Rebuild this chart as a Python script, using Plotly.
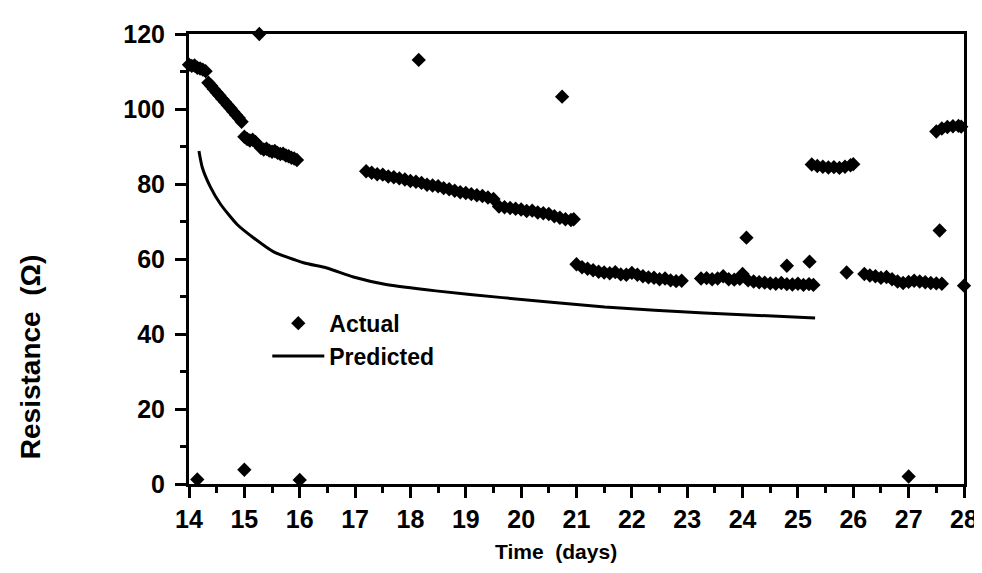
import plotly.graph_objects as go

# ---- Actual (measured) resistance, in days / ohms ----
seg_a_x = [14.0, 14.05, 14.1, 14.15, 14.2, 14.25, 14.3]
seg_a_y = [111.8, 111.5, 111.6, 111.0, 110.8, 110.5, 110.1]

seg_b_x = [14.35, 14.4, 14.45, 14.5, 14.55, 14.6, 14.65, 14.7, 14.75, 14.8, 14.85, 14.9, 14.95]
seg_b_y = [107.0, 106.2, 105.3, 104.4, 103.6, 102.7, 101.9, 101.0, 100.2, 99.3, 98.4, 97.6, 96.6]

seg_c_x = [15.0, 15.05, 15.1, 15.15, 15.2]
seg_c_y = [92.6, 92.0, 91.6, 91.8, 91.2]

seg_d_x = [15.3, 15.35, 15.4, 15.45, 15.5, 15.55, 15.6, 15.65, 15.7, 15.75, 15.8, 15.85, 15.9, 15.95]
seg_d_y = [89.6, 89.2, 89.4, 88.9, 88.6, 88.8, 88.3, 88.0, 88.1, 87.6, 87.4, 87.0, 86.8, 86.4]

seg_e_x = [17.2, 17.3, 17.4, 17.5, 17.6, 17.7, 17.8, 17.9, 18.0, 18.1, 18.2, 18.3, 18.4,
           18.5, 18.6, 18.7, 18.8, 18.9, 19.0, 19.1, 19.2, 19.3, 19.4, 19.5, 19.6, 19.7,
           19.8, 19.9, 20.0, 20.1, 20.2, 20.3, 20.4, 20.5, 20.6, 20.7, 20.8, 20.9, 20.95]
seg_e_y = [83.4, 83.0, 82.6, 82.5, 82.0, 81.8, 81.5, 81.2, 80.8, 80.6, 80.3, 79.8, 79.6,
           79.4, 78.9, 78.6, 78.2, 77.8, 77.6, 77.3, 77.0, 76.8, 76.4, 76.0, 74.0, 73.8,
           73.6, 73.4, 73.2, 72.8, 72.9, 72.4, 72.2, 72.0, 71.4, 71.0, 70.6, 70.4, 70.6]

seg_f_x = [21.0, 21.1, 21.2, 21.3, 21.4, 21.5, 21.6, 21.7, 21.8, 21.9, 22.0, 22.1, 22.2,
           22.3, 22.4, 22.5, 22.6, 22.7, 22.8, 22.9]
seg_f_y = [58.6, 57.8, 57.4, 57.0, 56.6, 56.4, 56.2, 56.5, 55.9, 55.8, 56.3, 55.8, 55.4,
           55.1, 55.0, 54.6, 54.8, 54.3, 54.1, 54.2]

seg_g_x = [23.25, 23.35, 23.45, 23.55, 23.65, 23.75, 23.85, 23.95, 24.0, 24.1, 24.2, 24.3,
           24.4, 24.5, 24.6, 24.7, 24.8, 24.9, 25.0, 25.1, 25.2, 25.28]
seg_g_y = [54.8, 54.9, 54.6, 54.8, 55.4, 54.6, 54.5, 54.7, 56.0, 54.3, 54.0, 53.8,
           53.7, 53.5, 53.4, 53.6, 53.3, 53.2, 53.4, 53.1, 53.3, 53.1]

seg_h_x = [25.25, 25.35, 25.45, 25.55, 25.65, 25.75, 25.85, 25.95, 26.0]
seg_h_y = [85.2, 84.8, 84.6, 84.4, 84.5, 84.3, 84.6, 85.0, 85.3]

seg_i_x = [26.2, 26.3, 26.4, 26.5, 26.6, 26.7, 26.8, 26.9, 27.0, 27.1, 27.2, 27.3, 27.4, 27.5, 27.6]
seg_i_y = [56.0, 55.6, 55.4, 55.0, 55.2, 54.6, 54.0, 53.6, 53.9, 54.2, 54.0, 53.8, 53.6, 53.5, 53.4]

seg_j_x = [27.5, 27.6, 27.7, 27.8, 27.9, 27.95]
seg_j_y = [94.0, 94.8, 95.2, 95.4, 95.5, 95.3]

outlier_x = [14.15, 15.0, 15.27, 16.0, 18.15, 20.74, 24.07, 24.8, 25.21, 25.88, 27.0, 27.56, 28.0]
outlier_y = [1.2, 3.8, 120.0, 1.1, 113.1, 103.3, 65.7, 58.2, 59.3, 56.4, 2.0, 67.6, 52.9]

# ---- Predicted resistance ----
pred_x = [14.18, 14.24, 14.39, 14.57, 14.87, 15.17, 15.53, 16.07, 16.49, 16.97,
          17.56, 18.46, 19.66, 21.51, 23.31, 25.31]
pred_y = [88.8, 84.4, 79.1, 74.6, 69.2, 65.6, 61.9, 59.0, 57.6, 55.2,
          53.2, 51.5, 49.7, 47.2, 45.6, 44.3]

actual_x = (seg_a_x + seg_b_x + seg_c_x + seg_d_x + seg_e_x + seg_f_x + seg_g_x
            + seg_h_x + seg_i_x + seg_j_x + outlier_x)
actual_y = (seg_a_y + seg_b_y + seg_c_y + seg_d_y + seg_e_y + seg_f_y + seg_g_y
            + seg_h_y + seg_i_y + seg_j_y + outlier_y)

x_ticks = list(range(14, 29))
y_ticks = [0, 20, 40, 60, 80, 100, 120]

FONT = "Liberation Sans"

fig = go.Figure()
fig.add_trace(go.Scatter(
    x=actual_x, y=actual_y, mode="markers", name="Actual",
    marker=dict(symbol="diamond", size=11, color="black", line=dict(width=0)),
    cliponaxis=False,
))
fig.add_trace(go.Scatter(
    x=pred_x, y=pred_y, mode="lines", name="Predicted",
    line=dict(color="black", width=3, shape="spline", smoothing=0.6),
))

axis_common = dict(
    showline=True, linecolor="black", linewidth=3, mirror=True,
    showgrid=False, zeroline=False,
    ticks="outside", ticklen=11, tickwidth=2.5, tickcolor="black",
    tickfont=dict(family=FONT, size=25, color="black", weight="bold"),
)

fig.update_xaxes(
    range=[14, 28], tickvals=x_ticks, ticktext=[str(v) for v in x_ticks],
    minor=dict(dtick=0.5, tick0=14, ticks="outside", ticklen=6, tickwidth=2.5, tickcolor="black"),
    **axis_common,
)
fig.update_yaxes(
    range=[0, 120], tickvals=y_ticks, ticktext=[str(v) for v in y_ticks],
    minor=dict(dtick=10, tick0=0, ticks="outside", ticklen=6, tickwidth=2.5, tickcolor="black"),
    ticklabelstandoff=5,
    **axis_common,
)

fig.update_layout(
    width=982, height=573,
    margin=dict(l=181, r=20, t=22, b=97),
    paper_bgcolor="white", plot_bgcolor="white",
    font=dict(family=FONT, color="black"),
    legend=dict(
        x=0.101, y=0.405, xanchor="left", yanchor="top",
        bgcolor="rgba(0,0,0,0)", borderwidth=0,
        font=dict(family=FONT, size=23, color="black", weight="bold"),
        tracegroupgap=0, itemwidth=52,
    ),
    annotations=[
        dict(
            text="Resistance  (Ω)", textangle=-90,
            xref="paper", yref="paper", x=-0.205, y=0.282,
            xanchor="center", yanchor="middle", showarrow=False,
            font=dict(family=FONT, size=28, color="black", weight="bold"),
        ),
        dict(
            text="Time  (days)",
            xref="paper", yref="paper", x=0.474, y=-0.15,
            xanchor="center", yanchor="middle", showarrow=False,
            font=dict(family=FONT, size=21, color="black", weight="bold"),
        ),
    ],
)

fig.write_html("out.html")
